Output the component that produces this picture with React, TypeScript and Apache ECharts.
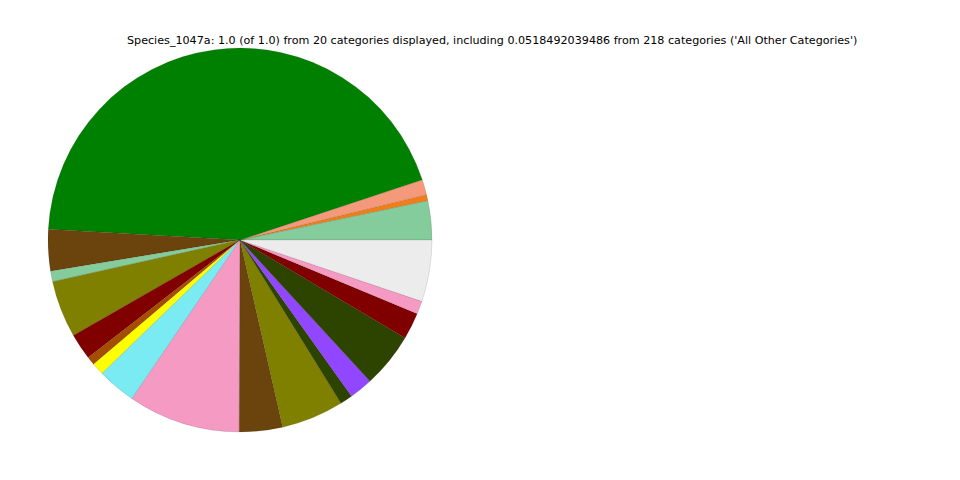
import React, { useEffect, useRef } from "react";
import * as echarts from "echarts";

const titleText =
  "Species_1047a: 1.0 (of 1.0) from 20 categories displayed, including 0.0518492039486 from 218 categories ('All Other Categories')";

const categories = [
  "Cat 1", "Cat 2", "Cat 3", "Cat 4", "Cat 5", "Cat 6", "Cat 7", "Cat 8", "Cat 9", "Cat 10",
  "Cat 11", "Cat 12", "Cat 13", "Cat 14", "Cat 15", "Cat 16", "Cat 17", "Cat 18", "Cat 19",
  "All Other Categories",
];

const values = [
  0.033, 0.005, 0.0128, 0.441, 0.035, 0.0089, 0.048, 0.022, 0.0072, 0.0105,
  0.0325, 0.0947, 0.0364, 0.0525, 0.0106, 0.0197, 0.0464, 0.0225, 0.0111, 0.0518492039486,
];

const colors = [
  "#84cc9b", "#f07f19", "#f4997a", "#008000", "#6b430d", "#84cc9b", "#808000", "#800000",
  "#a54d00", "#ffff00", "#7aebf2", "#f49ac3", "#6b430d", "#808000", "#2d4400", "#9146ff",
  "#2d4400", "#800000", "#f49ac3", "#ececec",
];

export default function App() {
  const ref = useRef<HTMLDivElement>(null);
  useEffect(() => {
    if (!ref.current) return;
    const chart = echarts.init(ref.current, undefined, { renderer: "svg" });
    chart.setOption({
      animation: false,
      backgroundColor: "#ffffff",
      title: {
        text: titleText,
        left: 122,
        top: 30,
        textStyle: {
          fontFamily: "DejaVu Sans",
          fontSize: 11.15,
          fontWeight: "normal",
          color: "#000000",
        },
      },
      series: [
        {
          type: "pie",
          center: [240, 240],
          radius: 192,
          startAngle: 0,
          clockwise: false,
          label: { show: false },
          labelLine: { show: false },
          emphasis: { disabled: true },
          itemStyle: { borderColor: "rgba(0,0,0,0.25)", borderWidth: 0.4 },
          data: categories.map((c, i) => ({
            name: c,
            value: values[i],
            itemStyle: { color: colors[i] },
          })),
        },
      ],
    });
    return () => chart.dispose();
  }, []);
  return (
    <div
      ref={ref}
      style={{ position: "fixed", left: 0, top: 0, width: 960, height: 480 }}
    />
  );
}
